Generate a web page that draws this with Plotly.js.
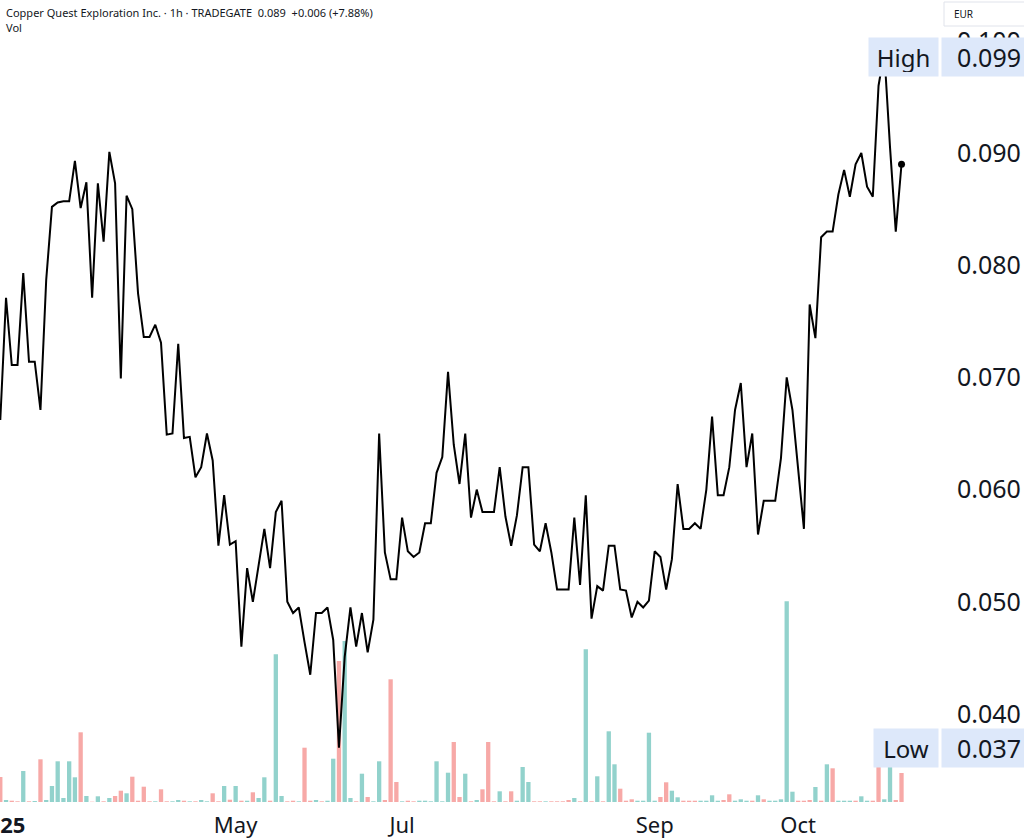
<!DOCTYPE html>
<html><head><meta charset="utf-8">
<script src="https://cdn.plot.ly/plotly-3.0.1.min.js"></script>
<style>html,body{margin:0;padding:0;background:#fff;overflow:hidden}#chart{width:1024px;height:838px}</style>
</head><body><div id="chart"></div>
<script>
// ---- data ----
const symbolTitle = "Copper Quest Exploration Inc. · 1h · TRADEGATE";
const lastText = "0.089";
const changeText = "+0.006 (+7.88%)";
const volLabel = "Vol";
const currency = "EUR";

const tickIdx  = [0, 41, 70, 114, 139];
const tickText = ["<b>2025</b>", "May", "Jul", "Sep", "Oct"];
const priceTicks = [0.04, 0.05, 0.06, 0.07, 0.08, 0.09, 0.10];

const close = [
0.0662,0.0771,0.0711,0.0711,0.0793,0.0714,0.0714,0.0671,0.0787,0.0852,
0.0856,0.0857,0.0857,0.0893,0.0851,0.0874,0.0771,0.0873,0.0821,0.0901,
0.0873,0.0699,0.0862,0.0850,0.0775,0.0736,0.0736,0.0747,0.0731,0.0649,
0.0650,0.0730,0.0646,0.0647,0.0611,0.0620,0.0650,0.0626,0.0550,0.0595,
0.0551,0.0554,0.0460,0.0530,0.0500,0.0532,0.0565,0.0530,0.0580,0.0590,
0.0500,0.0490,0.0495,0.0464,0.0435,0.0490,0.0490,0.0495,0.0466,0.0370,
0.0451,0.0495,0.0460,0.0490,0.0455,0.0484,0.0650,0.0544,0.0520,0.0520,
0.0575,0.0545,0.0540,0.0544,0.0570,0.0570,0.0615,0.0629,0.0705,0.0640,
0.0605,0.0650,0.0575,0.0600,0.0580,0.0580,0.0580,0.0620,0.0576,0.0550,
0.0577,0.0620,0.0620,0.0551,0.0545,0.0570,0.0544,0.0511,0.0511,0.0511,
0.0575,0.0515,0.0595,0.0485,0.0514,0.0510,0.0550,0.0550,0.0511,0.0510,
0.0486,0.0500,0.0495,0.0501,0.0545,0.0540,0.0511,0.0538,0.0605,0.0565,
0.0565,0.0570,0.0565,0.0600,0.0665,0.0595,0.0595,0.0620,0.0671,0.0695,
0.0620,0.0650,0.0560,0.0590,0.0590,0.0590,0.0628,0.0700,0.0671,0.0620,
0.0565,0.0765,0.0735,0.0825,0.0830,0.0830,0.0863,0.0885,0.0861,0.0890,
0.0900,0.0870,0.0861,0.0960,0.0990,0.0905,0.0830,0.0890
];

const volume = [
25,2,1.3,0.7,31,0.7,1,42.7,2,16,
40.7,4,40.7,24.7,69.7,6,0.3,5.7,0.7,4,
6,11.3,8.7,25.3,1.3,15.3,0.7,0.7,12.7,0.7,
0.7,2,1.3,0.7,0.7,2,0.7,8.7,0.7,16,
2.3,16,1.3,1.3,9.7,4,24.7,1.3,147.7,6,
0.7,1.3,0.7,54.3,1.3,2,0.7,1.3,43.3,141,
161,4,0.7,28.3,5,0.7,40.7,2,122.7,20,
0.7,1.3,0.7,1.3,1.3,0.7,40.7,0.7,29.3,60,
5,28.3,0.7,2,12.7,60,0.7,10.7,0.7,10.7,
1.3,35,20,0.7,0.7,0.7,0.7,0.7,0.7,2,
4,0.7,152.7,0.7,25.7,0.7,70.7,37.7,13.3,1.3,
2.7,1.3,1.3,69.3,1.3,5,19.7,11.3,4.7,1.3,
1.3,1.3,1.3,1.3,6.7,1.3,2,7.7,1.3,2.7,
1.3,1.3,6.7,2.7,1.3,1.3,2.7,200.7,10.3,1.3,
1.3,2,15,1.3,37.7,33.7,1.3,1.3,1.3,1.3,
5.7,1.3,1.3,40,2.7,40,2,29
];

// u = up bar (teal), d = down bar (red)
const volumeDir = (
"duddudud uu" +
"uuuudududu" +
"dduddddudd" +
"uududuudd u" +
"dududuudu u" +
"dduddudu ud" +
"uududuuddd" +
"udduuuuuud" +
"dudu dddudd" +
"uuudduddd d" +
"udududuudd" +
"duuuudduud" +
"dduuuudduuu" +
"dudu uuuudd" +
"dududuuudu" +
"udduuddu"
).replace(/\s/g, "").split("");

// ---- styling ----
const FONT = '"Noto Sans", "DejaVu Sans", sans-serif';
const TXT = '#131722';
const UP = '#92d2cc';
const DOWN = '#f7a9a7';
const LABEL_BG = '#dde8fa';

const idx = close.map((_, i) => i);
const last = close.length - 1;
const hi = Math.max(...close);
const lo = Math.min(...close);

const plotW = 940, plotH = 808;
const px = v => v / plotW;          // pixel -> paper x
const py = v => 1 - v / plotH;      // pixel -> paper y

const traces = [
  {
    type: 'bar', x: idx, y: volume, yaxis: 'y',
    marker: { color: volumeDir.map(d => d === 'u' ? UP : DOWN), line: { width: 0 } },
    width: 0.75, hoverinfo: 'skip'
  },
  {
    type: 'scatter', mode: 'lines', x: idx, y: close, yaxis: 'y2',
    line: { color: '#000000', width: 2, shape: 'linear' }, hoverinfo: 'skip'
  },
  {
    type: 'scatter', mode: 'markers', x: [idx[last]], y: [close[last]], yaxis: 'y2',
    marker: { color: '#000000', size: 7 }, hoverinfo: 'skip'
  }
];

const layout = {
  width: 1024, height: 838,
  margin: { l: 0, r: 1024 - plotW, t: 0, b: 838 - plotH, pad: 0 },
  paper_bgcolor: '#ffffff', plot_bgcolor: '#ffffff',
  showlegend: false,
  font: { family: FONT, color: TXT },
  xaxis: {
    range: [-0.05, plotW / 5.742], tickmode: 'array', tickvals: tickIdx, ticktext: tickText,
    showgrid: false, zeroline: false, showline: false, ticks: '',
    tickfont: { size: 22, color: TXT, family: FONT }, ticklabelstandoff: 2,
    ticklabeloverflow: 'allow', fixedrange: true
  },
  yaxis: { range: [-6, 802], visible: false, fixedrange: true },
  yaxis2: {
    overlaying: 'y', side: 'right', range: [0.031622, 0.10364],
    tickmode: 'array', tickvals: priceTicks, tickformat: '.3f',
    showgrid: false, zeroline: false, showline: false, ticks: '',
    tickfont: { size: 25, color: TXT, family: FONT }, ticklabelstandoff: 16,
    ticklabeloverflow: 'allow', fixedrange: true
  },
  shapes: [
    { type: 'rect', xref: 'paper', yref: 'paper', x0: px(944), x1: px(1030), y0: py(26), y1: py(2),
      line: { color: '#e0e3eb', width: 1 }, fillcolor: '#ffffff', layer: 'above' }
  ],
  annotations: [
    { xref: 'paper', yref: 'paper', x: px(4), y: py(12), xanchor: 'left', yanchor: 'middle', showarrow: false,
      text: symbolTitle + '  ' + lastText + '  ' + changeText, font: { size: 11, color: TXT, family: FONT } },
    { xref: 'paper', yref: 'paper', x: px(4), y: py(27), xanchor: 'left', yanchor: 'middle', showarrow: false,
      text: volLabel, font: { size: 11, color: TXT, family: FONT } },
    { xref: 'paper', yref: 'paper', x: px(952), y: py(14), xanchor: 'left', yanchor: 'middle', showarrow: false,
      text: currency, font: { size: 10, color: TXT, family: FONT } },
    { xref: 'paper', yref: 'y2', x: px(939), y: hi, yshift: -5, xanchor: 'right', yanchor: 'middle', showarrow: false,
      text: 'High', bgcolor: LABEL_BG, width: 61, height: 30, borderpad: 4, align: 'center', valign: 'middle',
      font: { size: 24, color: TXT, family: FONT } },
    { xref: 'paper', yref: 'y2', x: px(941), y: hi, yshift: -5, xanchor: 'left', yanchor: 'middle', showarrow: false,
      text: hi.toFixed(3), bgcolor: LABEL_BG, width: 75, height: 30, borderpad: 4, align: 'right', valign: 'middle',
      font: { size: 25, color: TXT, family: FONT } },
    { xref: 'paper', yref: 'y2', x: px(939), y: lo, xanchor: 'right', yanchor: 'middle', showarrow: false,
      text: 'Low', bgcolor: LABEL_BG, width: 56, height: 30, borderpad: 4, align: 'center', valign: 'middle',
      font: { size: 24, color: TXT, family: FONT } },
    { xref: 'paper', yref: 'y2', x: px(941), y: lo, xanchor: 'left', yanchor: 'middle', showarrow: false,
      text: lo.toFixed(3), bgcolor: LABEL_BG, width: 75, height: 30, borderpad: 4, align: 'right', valign: 'middle',
      font: { size: 25, color: TXT, family: FONT } }
  ]
};

Plotly.newPlot('chart', traces, layout, { staticPlot: true, displayModeBar: false });
</script>
</body></html>
